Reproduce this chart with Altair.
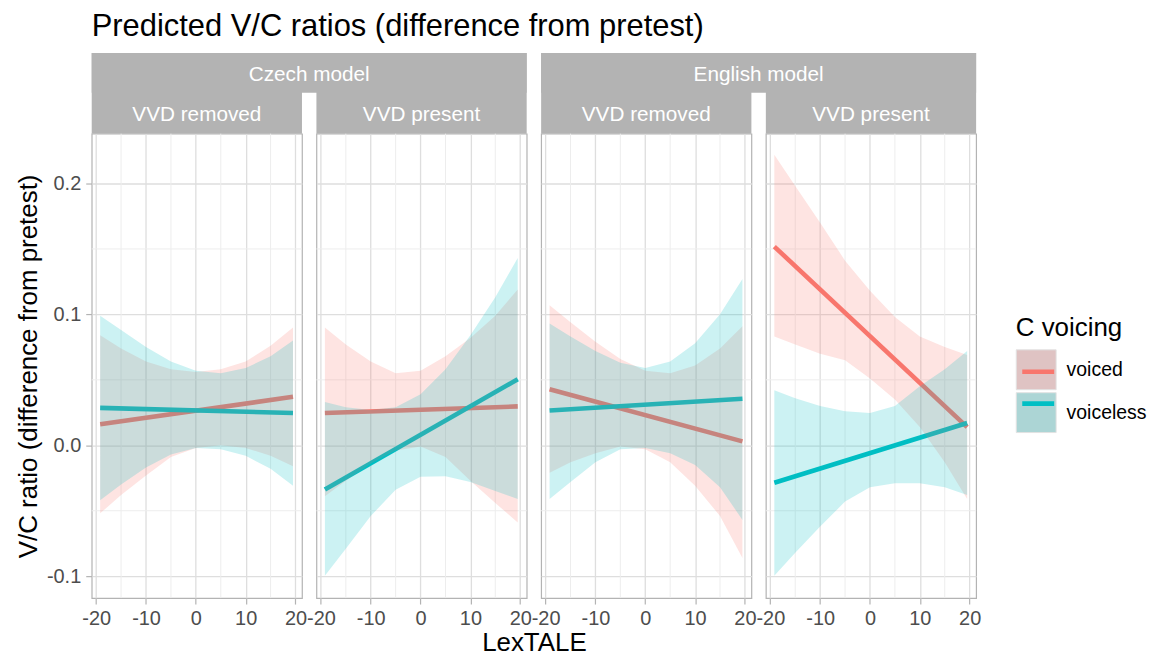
import altair as alt
import pandas as pd

FONT = "Liberation Sans"

# ---------------- data ----------------
VOICING = ["voiced", "voiceless"]
MODELS = ["Czech model", "English model"]
VVD = ["VVD removed", "VVD present"]

X_RIB = [-19.2, -15, -10, -5, 0, 5, 10, 15, 19.5]
X_LINE = [-19.2, 19.5]

X_TICKS = [-20, -10, 0, 10, 20]
X_MINOR = [-15, -5, 5, 15]
Y_TICKS = [-0.1, 0.0, 0.1, 0.2]
Y_MINOR = [-0.05, 0.05, 0.15]

# Czech model, VVD removed
CZ_REM_VOICED_FIT = [0.016, 0.037]
CZ_REM_VOICED_LO = [-0.052, -0.038, -0.023, -0.009, -0.002, 0.000, -0.002, -0.008, -0.016]
CZ_REM_VOICED_HI = [0.084, 0.074, 0.064, 0.058, 0.056, 0.058, 0.064, 0.076, 0.090]
CZ_REM_VOICELESS_FIT = [0.0286, 0.0246]
CZ_REM_VOICELESS_LO = [-0.042, -0.030, -0.017, -0.007, -0.002, -0.003, -0.008, -0.018, -0.031]
CZ_REM_VOICELESS_HI = [0.099, 0.088, 0.075, 0.064, 0.057, 0.055, 0.059, 0.068, 0.080]

# Czech model, VVD present
CZ_PRE_VOICED_FIT = [0.0246, 0.0297]
CZ_PRE_VOICED_LO = [-0.039, -0.027, -0.014, -0.004, -0.001, -0.009, -0.027, -0.044, -0.059]
CZ_PRE_VOICED_HI = [0.090, 0.077, 0.064, 0.055, 0.057, 0.068, 0.082, 0.099, 0.119]
CZ_PRE_VOICELESS_FIT = [-0.0337, 0.0504]
CZ_PRE_VOICELESS_LO = [-0.0996, -0.079, -0.054, -0.034, -0.024, -0.0236, -0.028, -0.035, -0.041]
CZ_PRE_VOICELESS_HI = [0.033, 0.029, 0.027, 0.029, 0.039, 0.058, 0.084, 0.113, 0.143]

# English model, VVD removed
EN_REM_VOICED_FIT = [0.0428, 0.003]
EN_REM_VOICED_LO = [-0.021, -0.013, -0.006, -0.001, -0.003, -0.013, -0.031, -0.054, -0.086]
EN_REM_VOICED_HI = [0.107, 0.094, 0.079, 0.066, 0.057, 0.055, 0.061, 0.074, 0.091]
EN_REM_VOICELESS_FIT = [0.0266, 0.0355]
EN_REM_VOICELESS_LO = [-0.041, -0.028, -0.013, -0.003, -0.002, -0.006, -0.015, -0.032, -0.057]
EN_REM_VOICELESS_HI = [0.093, 0.083, 0.072, 0.063, 0.059, 0.064, 0.078, 0.100, 0.127]

# English model, VVD present
EN_PRE_VOICED_FIT = [0.1518, 0.0139]
EN_PRE_VOICED_LO = [0.083, 0.077, 0.070, 0.065, 0.051, 0.035, 0.014, -0.013, -0.041]
EN_PRE_VOICED_HI = [0.222, 0.198, 0.170, 0.141, 0.118, 0.098, 0.083, 0.075, 0.069]
EN_PRE_VOICELESS_FIT = [-0.0286, 0.0170]
EN_PRE_VOICELESS_LO = [-0.0996, -0.082, -0.062, -0.043, -0.032, -0.029, -0.029, -0.032, -0.038]
EN_PRE_VOICELESS_HI = [0.042, 0.036, 0.030, 0.026, 0.0246, 0.030, 0.045, 0.058, 0.072]

LINE_COLORS = ["#F8766D", "#00BFC4"]
KEY_FILLS = ["#DFC3C3", "#ACD5D5"]

SERIES = {
    ("Czech model", "VVD removed", "voiced"): (CZ_REM_VOICED_FIT, CZ_REM_VOICED_LO, CZ_REM_VOICED_HI),
    ("Czech model", "VVD removed", "voiceless"): (CZ_REM_VOICELESS_FIT, CZ_REM_VOICELESS_LO, CZ_REM_VOICELESS_HI),
    ("Czech model", "VVD present", "voiced"): (CZ_PRE_VOICED_FIT, CZ_PRE_VOICED_LO, CZ_PRE_VOICED_HI),
    ("Czech model", "VVD present", "voiceless"): (CZ_PRE_VOICELESS_FIT, CZ_PRE_VOICELESS_LO, CZ_PRE_VOICELESS_HI),
    ("English model", "VVD removed", "voiced"): (EN_REM_VOICED_FIT, EN_REM_VOICED_LO, EN_REM_VOICED_HI),
    ("English model", "VVD removed", "voiceless"): (EN_REM_VOICELESS_FIT, EN_REM_VOICELESS_LO, EN_REM_VOICELESS_HI),
    ("English model", "VVD present", "voiced"): (EN_PRE_VOICED_FIT, EN_PRE_VOICED_LO, EN_PRE_VOICED_HI),
    ("English model", "VVD present", "voiceless"): (EN_PRE_VOICELESS_FIT, EN_PRE_VOICELESS_LO, EN_PRE_VOICELESS_HI),
}

line_rows, rib_rows = [], []
for (m, v, c), (fit, lo, hi) in SERIES.items():
    for x, f in zip(X_LINE, fit):
        line_rows.append({"model": m, "vvd": v, "voicing": c, "x": x, "fit": f})
    for x, l, h in zip(X_RIB, lo, hi):
        rib_rows.append({"model": m, "vvd": v, "voicing": c, "x": x, "lo": l, "hi": h})
line_df = pd.DataFrame(line_rows)
rib_df = pd.DataFrame(rib_rows)

# ---------------- styling ----------------
PW, PH = 211, 466
COLSP = 14.5
TOP_H, SUB_H = 40, 41
STRIP_GRAY = "#B3B3B3"
XS = alt.Scale(domain=[-20.9, 21.3], nice=False, zero=False)
YS = alt.Scale(domain=[-0.1167, 0.238], nice=False, zero=False)

X_LABEL = "datum.value < 0 ? '-' + format(-datum.value, 'd') : format(datum.value, 'd')"
Y_LABEL = "datum.value < 0 ? '-' + format(-datum.value, '.1f') : format(datum.value, '.1f')"

LEG_X, LEG_Y = 927.3, 263.4
LEG_LABEL_SIZE = 19.5
LEG_LABEL_OFFSET = 10


def x_axis(with_title):
    kw = dict(values=X_TICKS, grid=True, gridColor="#DEDEDE", gridWidth=1.3, domain=False,
              ticks=True, tickColor="#B3B3B3", tickSize=6, tickWidth=1.2,
              labelFont=FONT, labelFontSize=20, labelColor="#4D4D4D", labelPadding=5,
              labelFlush=False, labelOverlap=False, labelExpr=X_LABEL)
    if with_title:
        kw.update(title="LexTALE", titleFont=FONT, titleFontSize=26, titleFontWeight="normal",
                  titleColor="black", titleX=PW + COLSP / 2, titleAlign="center", titlePadding=1)
    else:
        kw.update(title=None)
    return alt.Axis(**kw)


def y_axis(first):
    if first:
        return alt.Axis(values=Y_TICKS, grid=True, gridColor="#DEDEDE", gridWidth=1.3, domain=False,
                        ticks=True, tickColor="#B3B3B3", tickSize=6, tickWidth=1.2,
                        labelFont=FONT, labelFontSize=20, labelColor="#4D4D4D", labelPadding=5,
                        labelExpr=Y_LABEL, title="V/C ratio (difference from pretest)",
                        titleFont=FONT, titleFontSize=26, titleFontWeight="normal",
                        titleColor="black", titlePadding=5)
    return alt.Axis(values=Y_TICKS, grid=True, gridColor="#DEDEDE", gridWidth=1.3, domain=False,
                    ticks=False, labels=False, title=None)


key_legend = alt.Legend(title="C voicing", orient="none", legendX=LEG_X, legendY=LEG_Y,
                        symbolType="square", symbolSize=1600, symbolStrokeColor="#E2E2E2",
                        symbolStrokeWidth=1, symbolOpacity=1, rowPadding=-4,
                        labelOffset=LEG_LABEL_OFFSET,
                        labelFont=FONT, labelFontSize=LEG_LABEL_SIZE, labelColor="black",
                        titleFont=FONT, titleFontSize=26, titleFontWeight="normal",
                        titleColor="black", titlePadding=8, padding=0, zindex=0)
stroke_legend = alt.Legend(title="C voicing", orient="none", legendX=LEG_X, legendY=LEG_Y,
                           symbolType="M-0.8,0H0.8", symbolSize=1600, symbolStrokeWidth=4.6,
                           symbolFillColor="transparent", rowPadding=-4,
                           labelOffset=LEG_LABEL_OFFSET,
                           labelFont=FONT, labelFontSize=LEG_LABEL_SIZE, labelOpacity=0,
                           titleFont=FONT, titleFontSize=26, titleFontWeight="normal",
                           titleOpacity=0, titlePadding=8, padding=0, zindex=1)


def panel(m, v, first, xtitle):
    ldf = line_df[(line_df.model == m) & (line_df.vvd == v)]
    rdf = rib_df[(rib_df.model == m) & (rib_df.vvd == v)]
    xa, ya = x_axis(xtitle), y_axis(first)
    gx = alt.Chart(pd.DataFrame({"v": X_MINOR})).mark_rule(color="#EDEDED", strokeWidth=1).encode(
        x=alt.X("v:Q", scale=XS, axis=xa))
    gy = alt.Chart(pd.DataFrame({"v": Y_MINOR})).mark_rule(color="#EDEDED", strokeWidth=1).encode(
        y=alt.Y("v:Q", scale=YS, axis=ya))
    lines = alt.Chart(ldf).mark_line(strokeWidth=4.6, clip=True).encode(
        x=alt.X("x:Q", scale=XS, axis=xa),
        y=alt.Y("fit:Q", scale=YS, axis=ya),
        stroke=alt.Stroke("voicing:N", scale=alt.Scale(domain=VOICING, range=LINE_COLORS),
                          legend=stroke_legend))
    ribbons = alt.Chart(rdf).mark_area(fillOpacity=0.2, clip=True).encode(
        x=alt.X("x:Q", scale=XS, axis=xa),
        y=alt.Y("lo:Q", scale=YS, axis=ya),
        y2="hi:Q",
        fill=alt.Fill("voicing:N", scale=alt.Scale(domain=VOICING, range=LINE_COLORS), legend=None))
    keys = alt.Chart(ldf).mark_square(opacity=0, size=1).encode(
        x=alt.X("x:Q", scale=XS, axis=xa),
        y=alt.Y("fit:Q", scale=YS, axis=ya),
        color=alt.Color("voicing:N", scale=alt.Scale(range=KEY_FILLS), legend=key_legend))
    return alt.layer(gx, gy, lines, ribbons, keys).properties(width=PW, height=PH)


def strip_cell(model_label, vvd_label):
    """Strip cell: lower part is the VVD strip; the right cell of each model group also
    draws the model strip, spanning back over the left cell and the gap."""
    layers = []
    if model_label is not None:
        top = alt.Chart(pd.DataFrame({"label": [model_label]}))
        layers.append(top.mark_rect(color=STRIP_GRAY).encode(
            x=alt.value(-(PW + COLSP)), x2=alt.value(PW), y=alt.value(0), y2=alt.value(TOP_H)))
        layers.append(top.mark_text(color="white", font=FONT, fontSize=20.8, align="center",
                                    baseline="middle").encode(
            x=alt.value(-COLSP / 2), y=alt.value(22), text="label:N"))
    sub = alt.Chart(pd.DataFrame({"label": [vvd_label]}))
    layers.append(sub.mark_text(color="white", font=FONT, fontSize=20.8, align="center",
                                baseline="middle").encode(
        x=alt.value(PW / 2), y=alt.value(TOP_H + 22), text="label:N"))
    return alt.layer(*layers).properties(
        width=PW, height=TOP_H + SUB_H,
        view=alt.ViewBackground(fill=STRIP_GRAY, stroke=STRIP_GRAY, strokeWidth=0))


strips, panels = [], []
for gi, m in enumerate(MODELS):
    for vi, v in enumerate(VVD):
        strips.append(strip_cell(m if vi == 1 else None, v))
        panels.append(panel(m, v, gi == 0 and vi == 0, gi == 0 and vi == 1))

chart = alt.concat(*strips, *panels, columns=4, spacing={"row": 0, "column": COLSP},
                   bounds="flush").resolve_scale(
    color="shared", stroke="shared", fill="shared").properties(
    title=alt.TitleParams("Predicted V/C ratios (difference from pretest)", anchor="start", frame="group",
                          font=FONT, fontSize=31, fontWeight="normal", color="black", offset=10.5),
    padding={"left": 6, "top": 1, "right": 0, "bottom": 0},
).configure(font=FONT).configure_view(stroke="#B3B3B3", strokeWidth=1.2)

chart.save("out.html", embed_options={"renderer": "svg", "actions": False})
